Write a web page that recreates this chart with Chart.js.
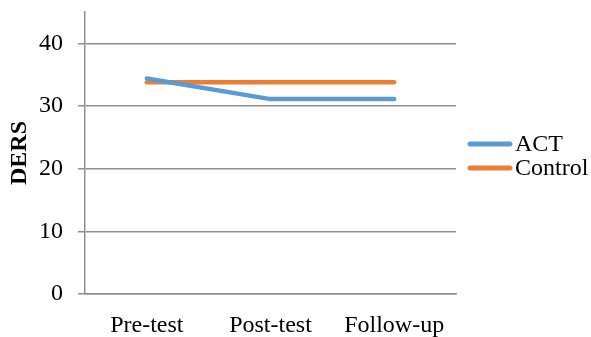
<!DOCTYPE html>
<html>
<head>
<meta charset="utf-8">
<script src="https://cdn.jsdelivr.net/npm/chart.js@4/dist/chart.umd.min.js"></script>
<style>
  html, body { margin: 0; padding: 0; background: #fff; }
  canvas { display: block; }
</style>
</head>
<body>
<canvas id="c" width="591" height="337"></canvas>
<script>
// DERS scores per assessment phase
const phases = ['Pre-test', 'Post-test', 'Follow-up'];
const actScores = [34.4, 31.1, 31.1];
const controlScores = [33.8, 33.8, 33.8];
const yTicks = [0, 10, 20, 30, 40];

const FONT = "'Liberation Serif', 'Times New Roman', serif";
const GRID = '#8f8f8f';

// Legend drawn to the right of the plot: a short stroke plus the series name
const sideLegend = {
  id: 'sideLegend',
  afterDraw(chart) {
    const ctx = chart.ctx;
    const x0 = 470, x1 = 510, tx = 515;
    const rows = [144, 168];
    ctx.save();
    chart.data.datasets.forEach((ds, i) => {
      const y = rows[i];
      ctx.strokeStyle = ds.borderColor;
      ctx.lineWidth = 5;
      ctx.lineCap = 'round';
      ctx.beginPath();
      ctx.moveTo(x0, y);
      ctx.lineTo(x1, y);
      ctx.stroke();
      ctx.fillStyle = '#000';
      ctx.font = '24px ' + FONT;
      ctx.textAlign = 'left';
      ctx.textBaseline = 'middle';
      ctx.fillText(ds.label, tx, y + 1);
    });
    ctx.restore();
  }
};

new Chart(document.getElementById('c'), {
  type: 'line',
  data: {
    labels: phases,
    datasets: [
      { label: 'ACT', data: actScores, borderColor: '#5B9BD5', backgroundColor: '#5B9BD5' },
      { label: 'Control', data: controlScores, borderColor: '#ED7D31', backgroundColor: '#ED7D31' }
    ]
  },
  options: {
    responsive: false,
    animation: false,
    devicePixelRatio: 1,
    layout: { padding: { top: 12, right: 135, left: 0, bottom: 0 } },
    elements: {
      line: { borderWidth: 4.5, tension: 0, borderCapStyle: 'round', borderJoinStyle: 'round' },
      point: { radius: 0, hoverRadius: 0 }
    },
    plugins: {
      legend: { display: false },
      tooltip: { enabled: false }
    },
    scales: {
      x: {
        offset: true,
        grid: { display: false, drawTicks: false },
        border: { display: true, color: GRID, width: 1.5 },
        ticks: { color: '#000', font: { family: FONT, size: 24 }, padding: 17, maxRotation: 0 },
        afterFit(s) { s.height = 43; s.paddingLeft = 0; s.paddingRight = 0; }
      },
      y: {
        min: 0,
        max: 45,
        afterBuildTicks(s) { s.ticks = yTicks.map(v => ({ value: v })); },
        grid: { color: GRID, lineWidth: 1.5, tickLength: 7, drawTicks: true },
        border: { display: true, color: GRID, width: 1.5 },
        ticks: { color: '#000', font: { family: FONT, size: 24 }, padding: 15 },
        title: {
          display: true,
          text: 'DERS',
          color: '#000',
          font: { family: FONT, size: 24, weight: 'bold' },
          padding: { top: 5, bottom: 0 }
        },
        afterFit(s) { s.width = 85; s.paddingTop = 0; s.paddingBottom = 0; }
      }
    }
  },
  plugins: [sideLegend]
});
</script>
</body>
</html>
